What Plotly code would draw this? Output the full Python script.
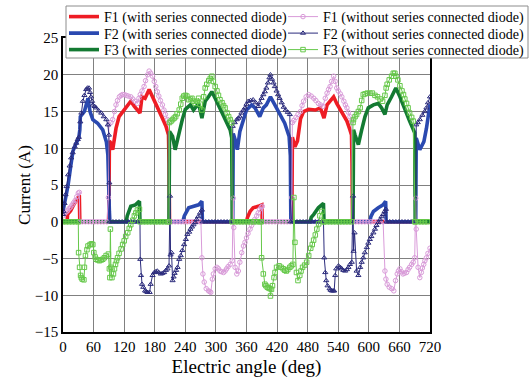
import plotly.graph_objects as go

# ---------------- data ----------------
# F1 with series connected diode (red)
f1w_deg = [0, 8, 9, 15, 20, 25, 32, 33, 90, 91, 94, 97.5, 104, 110, 120, 127, 133, 140, 146, 151, 155,
           161, 169, 176, 185, 195, 202, 207, 208, 209, 360, 362, 367, 373, 383, 390, 391,
           449, 450, 455, 460, 466, 472, 482, 495, 505, 512, 518, 524, 531, 537, 547, 557, 563,
           566, 567, 568, 720]
f1w_val = [0, 0, 1.0, 1.5, 2.2, 2.7, 3.6, 0, 0, 11.0, 10.7, 9.8, 12.7, 14.3, 15.2, 15.9, 16.4, 15.7,
           15.2, 14.8, 17.0, 16.8, 18.0, 17.0, 15.5, 14.1, 13.0, 11.8, 8.0, 0, 0, 0.6, 1.4, 1.9, 2.1,
           2.3, 0, 0, 11.5, 10.2, 11.0, 14.0, 15.0, 15.3, 15.2, 15.5, 14.1, 15.9, 16.4, 17.0, 16.1,
           14.8, 13.7, 12.5, 11.8, 8.0, 0, 0]

# F2 with series connected diode (blue)
f2w_deg = [0, 5, 10, 15, 19.5, 26, 31, 33, 34, 42, 49, 53, 58.5, 68, 78, 85, 88, 91, 92, 235, 238,
           246.5, 256, 266, 272.5, 273.5, 333, 334, 337.6, 342, 347, 354, 360, 370, 376.6, 386, 393,
           399, 407, 415.6, 425, 435, 443.6, 446, 447, 602, 604, 609, 618.6, 628, 633, 634, 692, 693,
           700, 708, 713, 720]
f2w_val = [1.4, 3.0, 5.0, 7.5, 9.6, 10.7, 11.4, 12.5, 14.3, 15.0, 16.8, 15.0, 13.9, 13.4, 12.5, 10.9,
           9.1, 1.4, 0, 0, 0.8, 1.9, 2.1, 2.3, 2.8, 0, 0, 12.0, 11.2, 9.8, 12.3, 13.9, 15.2, 15.9,
           15.5, 14.3, 15.5, 15.9, 17.0, 15.9, 14.8, 13.4, 11.6, 9.0, 0, 0, 0.7, 1.4, 1.9, 2.3, 2.8,
           0, 0, 11.4, 9.8, 10.9, 12.7, 16.0]

# F3 with series connected diode (dark green)
f3w_deg = [0, 124, 126, 130, 133, 142, 146, 150, 151, 208, 209, 215, 220, 228, 234, 240, 250, 256,
           266, 272.5, 279, 285.5, 292, 298.5, 308, 318, 328, 331, 332, 485, 487, 492, 501, 511, 512,
           569, 570, 573, 579.5, 586, 592.5, 599, 609, 618.6, 625, 631.6, 636, 644.6, 653, 661,
           670.6, 680, 690, 691, 720]
f3w_val = [0, 0, 0.8, 1.4, 2.1, 2.3, 2.5, 2.8, 0, 0, 12.3, 11.6, 9.8, 12.3, 13.9, 15.3, 15.9, 15.2,
           16.1, 14.1, 16.4, 17.0, 17.7, 16.8, 15.5, 13.9, 12.5, 11.4, 0, 0, 0.6, 1.0, 1.9, 2.5, 0,
           0, 12.5, 11.8, 10.5, 12.5, 14.3, 15.5, 15.9, 16.1, 15.5, 14.6, 15.9, 17.0, 18.2, 17.0,
           15.2, 13.7, 12.1, 0, 0]

# F1 without series connected diode (pink circles)
f1o_deg = [0, 3, 6, 9, 12, 15, 18, 21, 24, 27, 30, 32, 33, 38, 44, 50, 56, 62, 68, 74, 80, 86, 89,
           90, 94, 97.5, 101, 104, 107, 110.6, 114, 117, 120, 124, 128, 133, 137, 141, 146, 149,
           151.6, 155, 159, 162, 166, 169, 172, 175.7, 179, 182, 185, 188, 191, 195, 198, 201, 205,
           208, 209, 214, 220, 226, 232, 238, 244, 250, 256, 262, 268, 270.6, 272.5, 274.5, 277,
           281, 285.5, 288, 290, 293, 295, 298.5, 302, 305, 308, 311, 315, 318, 321, 324, 328, 332,
           334, 335, 337.6, 341, 344, 347, 350.6, 354, 357, 360, 363, 367, 370, 373, 376, 380, 383,
           386, 389, 391, 392, 398, 404, 410, 416, 422, 428, 434, 440, 446, 449, 450, 453, 457, 461,
           466, 469, 472, 477, 482, 487, 492, 496, 501, 505, 510, 514.5, 518, 521, 524, 527, 531,
           534, 537, 540, 544, 547, 551, 554, 557, 560, 563, 566.5, 568, 574, 580, 586, 592, 598,
           604, 610, 616, 622, 628, 631.6, 633.5, 636, 640, 644.6, 649, 652.4, 655.7, 658, 661,
           664, 667, 670, 674, 677, 680, 684, 687, 690, 692, 693, 696.6, 700, 703, 705, 707.7, 710,
           713, 716, 720]
f1o_val = [0.8, 1.1, 1.3, 1.5, 1.8, 2.0, 2.3, 2.6, 2.9, 3.4, 3.9, 4.0, 0, 0, 0, 0, 0, 0, 0, 0, 0, 0,
           3.3, 13.2, 13.5, 13.9, 15.0, 15.9, 16.5, 17.0, 17.2, 17.3, 17.3, 17.2, 17.1, 17.0, 16.7,
           16.4, 16.1, 16.8, 17.3, 17.8, 18.4, 19.2, 20.0, 20.5, 20.2, 19.8, 19.1, 18.4, 17.7, 17.1,
           16.5, 15.9, 15.2, 14.6, 13.9, 13.5, 0, 0, 0, 0, 0, 0, 0, 0, 0, 0, 0, 0, -4.9, -7.1, -8.2,
           -9.1, -9.4, -9.5, -9.6, -7.8, -7.1, -6.4, -6.2, -6.4, -6.7, -6.8, -6.9, -6.7, -6.4, -6.1,
           -5.8, -5.3, 3.2, -0.8, -6.2, -7.1, -6.7, -5.5, -4.2, -3.3, -2.8, -2.2, -1.6, -1.0, -0.5,
           -0.1, 0.3, 0.8, 1.2, 1.7, 2.0, 2.1, 0, 0, 0, 0, 0, 0, 0, 0, 0, 0, 3.3, 13.5, 13.8, 14.2,
           14.6, 15.0, 15.8, 16.4, 17.0, 17.3, 17.1, 16.8, 16.5, 16.1, 15.9, 15.7, 16.8, 17.5, 18.0,
           18.4, 19.1, 19.8, 19.1, 18.2, 17.8, 17.4, 17.0, 16.4, 15.9, 15.5, 14.9, 14.3, 13.7, 0, 0,
           0, 0, 0, 0, 0, 0, 0, 0, 0, -6.7, -7.8, -8.5, -8.9, -9.1, -9.4, -8.0, -7.1, -6.7, -6.4,
           -6.8, -7.1, -7.0, -6.9, -6.5, -6.2, -5.8, -5.5, -4.9, 3.2, -1.0, -6.2, -7.6, -6.9, -6.3,
           -5.8, -5.3, -4.9, -4.3, -3.6]

# F2 without series connected diode (navy triangles)
f2o_deg = [0, 1, 3, 5, 7, 10, 13, 16, 19, 23, 26, 29, 31, 34, 36, 39, 42, 45.5, 48, 51, 53, 55, 57,
           58.5, 62, 65, 70, 75, 80, 85, 88, 90, 91, 92, 98, 104, 110, 116, 122, 128, 134, 140, 146,
           151, 151.6, 153, 155, 157.5, 161, 163.5, 166, 170, 172, 175.7, 179, 182, 185, 188, 192,
           195, 198.4, 202, 205, 208, 210, 211, 213, 215, 217, 219, 222, 224.8, 228, 231, 234,
           237.5, 241, 244, 247.6, 250, 253, 256, 259.5, 262, 265, 269, 272.5, 274, 280, 286, 292,
           298, 304, 310, 316, 322, 328, 332, 333, 337, 341, 344, 347, 350, 354, 357, 360, 363.6,
           368, 373, 378, 383, 386, 389.6, 393, 396, 399, 402, 405, 407, 410, 413, 415.6, 419, 422,
           425, 429, 433, 437, 441, 445, 447, 453, 459, 465, 471, 477, 483, 489, 495, 501, 507, 511,
           512.5, 514.5, 516.4, 519, 523, 525, 527.5, 530, 532, 534, 536, 540.5, 544, 547, 550,
           553.5, 557, 560, 563, 566.5, 569, 570, 572, 576, 579.5, 583, 586, 589, 592, 596, 599,
           602, 605, 609, 612, 615, 618.6, 622, 625, 628, 631, 633.5, 635, 641, 647, 653, 659, 665,
           671, 677, 683, 689, 692, 693, 696, 700, 705, 709.6, 713, 716, 720]
f2o_val = [1.0, 1.4, 2.5, 3.7, 4.8, 6.4, 7.6, 8.7, 9.4, 10.2, 10.7, 11.2, 11.5, 13.6, 14.8, 16.4,
           17.2, 18.0, 18.2, 18.2, 17.6, 17.0, 16.4, 15.9, 15.7, 15.5, 15.1, 14.8, 14.3, 13.9, 13.2,
           11.8, 5.3, 0, 0, 0, 0, 0, 0, 0, 0, 0, 0, 0, -5.1, -7.3, -8.5, -8.9, -9.4, -9.5, -9.6,
           -9.6, -8.5, -7.3, -6.9, -6.8, -6.7, -6.9, -7.1, -7.0, -6.9, -6.6, -6.4, -6.0, 3.5, -4.5,
           -4.2, -8.0, -7.5, -7.0, -6.6, -6.2, -5.1, -4.6, -3.9, -3.1, -2.4, -1.7, -1.4, -1.0, -0.7,
           -0.4, -0.1, 0.3, 0.7, 1.2, 1.6, 0, 0, 0, 0, 0, 0, 0, 0, 0, 0, 0, 13.0, 13.5, 13.9, 14.1,
           14.3, 14.8, 15.2, 15.5, 16.0, 16.4, 16.5, 16.6, 16.2, 15.7, 16.2, 16.8, 17.3, 17.7, 18.2,
           18.9, 19.6, 20.0, 19.4, 18.9, 18.4, 17.8, 17.3, 16.8, 16.2, 15.6, 15.2, 14.9, 14.6, 0, 0,
           0, 0, 0, 0, 0, 0, 0, 0, 0, 0, -4.9, -6.9, -8.0, -8.7, -9.1, -9.3, -9.4, -9.4, -9.4, -7.3,
           -6.4, -6.0, -6.2, -6.4, -6.6, -6.7, -6.5, -6.2, -5.8, -5.5, 3.5, -4.0, -1.5, -6.7, -7.3,
           -6.2, -5.5, -4.9, -4.2, -3.5, -2.9, -2.4, -2.0, -1.5, -1.0, -0.5, -0.1, 0.3, 0.7, 1.0,
           1.4, 1.7, 0, 0, 0, 0, 0, 0, 0, 0, 0, 0, 0, 13.2, 13.5, 13.9, 14.5, 15.0, 15.5, 16.2, 17.0]

# F3 without series connected diode (light green squares)
f3o_deg = [0, 6, 12, 18, 24, 30, 30.6, 32.5, 34.5, 36, 37.7, 41, 42, 44, 47, 49, 53, 56, 58.5, 60.5,
           63, 65, 68, 71.5, 75, 78, 81, 84.6, 89, 91, 92, 93, 94, 96, 99, 101, 103, 105, 107, 110,
           114, 117, 120, 123, 127, 130, 133, 137, 140, 143, 146, 150, 151, 157, 163, 169, 175, 181,
           187, 193, 199, 205, 208, 209, 212, 215, 218, 221, 224, 228, 231, 234, 237, 240, 243,
           246.5, 250, 253, 256, 259.5, 263, 266, 269, 272.5, 276, 279, 282, 286, 289, 292, 295,
           298.5, 302, 305, 308, 312, 315, 318, 322, 325, 328, 331, 332, 338, 344, 350, 356, 362,
           368, 374, 380, 386, 389, 389.6, 393, 396, 398, 400.7, 403, 406, 407, 409, 411, 414, 416,
           419, 424, 428, 432, 435, 438, 441, 445, 448, 451, 453, 455, 458, 461, 464.5, 467, 470,
           474, 478, 482, 486, 489, 491.7, 495, 498, 501.5, 504, 508, 511, 512, 518, 524, 530, 536,
           542, 548, 554, 560, 566, 569, 570, 573, 576, 579.5, 583, 586, 589, 592.5, 597, 602, 607,
           612, 617, 622, 627, 631.6, 634, 636, 640, 644.6, 648, 651, 653, 657, 661, 665, 668,
           670.6, 674, 677, 680, 684, 687, 690, 691, 697, 703, 709, 715, 720]
f3o_val = [0, 0, 0, 0, 0, 0, -4.2, -6.2, -7.3, -7.6, -7.8, -7.9, -6.2, -4.6, -3.8, -3.3, -3.1, -3.0,
           -3.1, -4.2, -4.8, -5.1, -5.2, -5.3, -5.2, -5.1, -4.9, -4.6, -4.4, -6.4, -7.6, -1.0, -6.2,
           -7.6, -7.1, -6.4, -5.8, -5.3, -4.9, -4.3, -3.7, -3.1, -2.6, -2.0, -1.5, -0.9, -0.4, 0.2,
           0.8, 1.2, 1.6, 1.7, 0, 0, 0, 0, 0, 0, 0, 0, 0, 0, 0, 13.5, 13.7, 13.9, 14.1, 14.3, 14.7,
           15.2, 16.0, 16.8, 17.1, 17.2, 17.1, 16.6, 16.7, 16.8, 16.4, 16.1, 16.4, 16.8, 16.0, 15.2,
           17.0, 18.2, 18.7, 19.2, 19.5, 19.8, 19.1, 18.4, 17.8, 17.2, 16.6, 16.2, 15.8, 15.5, 14.8,
           14.3, 13.9, 13.5, 0, 0, 0, 0, 0, 0, 0, 0, 0, 0, 0, -4.9, -7.1, -8.5, -8.7, -8.9, -9.0,
           -9.1, -10.1, -9.2, -8.7, -7.6, -6.9, -6.2, -6.0, -6.2, -6.4, -6.6, -6.7, -6.5, -6.2, -6.0,
           -5.8, 3.3, -2.8, -6.9, -8.0, -7.3, -6.7, -6.2, -5.9, -5.5, -4.6, -3.6, -3.1, -2.5, -1.8,
           -1.0, -0.3, 0.8, 1.4, 0, 0, 0, 0, 0, 0, 0, 0, 0, 0, 0, 13.5, 13.9, 14.3, 14.6, 15.0,
           15.5, 16.5, 17.3, 17.4, 17.5, 17.5, 17.5, 17.2, 17.0, 16.7, 16.4, 17.2, 18.2, 18.7, 19.3,
           19.8, 20.2, 20.2, 19.8, 19.3, 18.5, 17.8, 17.3, 16.7, 16.1, 15.5, 14.8, 14.2, 13.7, 0, 0,
           0, 0, 0, 0]

x_ticks = [0, 60, 120, 180, 240, 300, 360, 420, 480, 540, 600, 660, 720]
y_ticks = [-15, -10, -5, 0, 5, 10, 15, 20, 25]

# ---------------- figure ----------------
FONT = "Liberation Serif, Times New Roman, serif"
L, R, T, B, W, H = 63, 102, 38, 48, 532, 380
PW, PH = W - L - R, H - T - B


def px_x(px):
    return (px - L) / PW


def px_y(py):
    return (H - B - py) / PH


fig = go.Figure()

# one single-entry legend per slot so the 2x3 grid matches the reference spacing
thick = [
    ("F1 (with series connected diode)", f1w_deg, f1w_val, "#ee1c24", "legend"),
    ("F2 (with series connected diode)", f2w_deg, f2w_val, "#2a49b0", "legend3"),
    ("F3 (with series connected diode)", f3w_deg, f3w_val, "#137a32", "legend5"),
]
for name, xd, yd, col, lg in thick:
    fig.add_trace(go.Scatter(x=xd, y=yd, mode="lines", name=name, legend=lg,
                             line=dict(color=col, width=3.6)))

thin = [
    ("F1 (without series connected diode)", f1o_deg, f1o_val, "#d99bd9", "circle-open", "legend2"),
    ("F2 (without series connected diode)", f2o_deg, f2o_val, "#2b2b7c", "triangle-up-open", "legend4"),
    ("F3 (without series connected diode)", f3o_deg, f3o_val, "#66c84a", "square-open", "legend6"),
]
for name, xd, yd, col, sym, lg in thin:
    fig.add_trace(go.Scatter(x=xd, y=yd, mode="lines+markers", name=name, legend=lg,
                             line=dict(color=col, width=1),
                             marker=dict(symbol=sym, size=4.5, color=col, line=dict(width=1, color=col))))

legend_slots = {
    "legend": (64, 17), "legend2": (283, 17),
    "legend3": (64, 33.5), "legend4": (283, 33.5),
    "legend5": (64, 50), "legend6": (283, 50),
}
legend_layout = {}
for key, (lx, ly) in legend_slots.items():
    legend_layout[key] = dict(x=px_x(lx), xanchor="left", y=px_y(ly), yanchor="middle",
                              bgcolor="rgba(0,0,0,0)", borderwidth=0, itemwidth=30,
                              font=dict(family=FONT, size=14, color="black"))

fig.update_layout(
    width=W, height=H,
    margin=dict(l=L, r=R, t=T, b=B, autoexpand=False),
    paper_bgcolor="white", plot_bgcolor="white",
    font=dict(family=FONT, color="black", size=15),
    showlegend=True,
    **legend_layout,
    shapes=[dict(type="rect", xref="paper", yref="paper", x0=px_x(66), x1=px_x(528),
                 y0=px_y(58), y1=px_y(6), fillcolor="white", line=dict(color="#8c8c8c", width=1),
                 layer="above")],
    xaxis=dict(range=[0, 720], tickmode="array", tickvals=x_ticks, showgrid=True,
               gridcolor="#808080", gridwidth=1, zeroline=False, showline=True, linecolor="black",
               linewidth=1.5, mirror=True, ticks="", tickfont=dict(size=15),
               title=dict(text="Electric angle (deg)", font=dict(size=19), standoff=6)),
    yaxis=dict(range=[-15, 25], tickmode="array", tickvals=y_ticks, showgrid=True,
               gridcolor="#808080", gridwidth=1, zeroline=False, showline=True, linecolor="black",
               linewidth=1.5, mirror=True, ticks="", tickfont=dict(size=15),
               title=dict(text="Current (A)", font=dict(size=17), standoff=0)),
)

fig.write_html("out.html")
